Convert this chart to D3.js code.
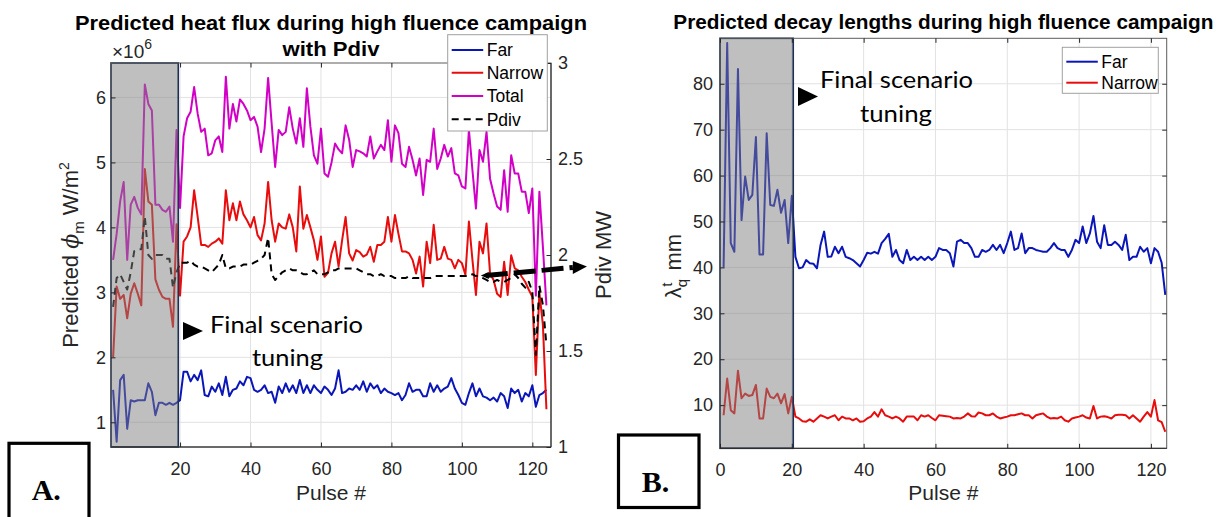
<!DOCTYPE html>
<html lang="en">
<head>
<meta charset="UTF-8">
<title>Predicted heat flux and decay lengths</title>
<script src="https://cdnjs.cloudflare.com/ajax/libs/d3/7.8.5/d3.min.js"></script>
<style>
    body { margin: 0; background: #fff; }
    svg text { font-family: "Liberation Sans", Arial, sans-serif; }
</style>
</head>
<body>
<svg id="fig" width="1226" height="517"></svg>
<script>
// pulse numbers 1..124
const pulse = d3.range(1, 125);

// panel A: peak heat flux (x10^6 W/m^2) and Pdiv (MW)
const farFlux = [1.5,0.7,1.65,1.73,0.9,1.34,1.32,1.34,1.34,1.34,
    1.6,1.47,1.11,1.3,1.3,1.27,1.3,1.27,1.3,1.34,
    1.78,1.78,1.63,1.73,1.65,1.8,1.42,1.4,1.55,1.47,
    1.6,1.42,1.7,1.4,1.5,1.52,1.63,1.57,1.7,1.68,
    1.5,1.47,1.5,1.57,1.45,1.47,1.3,1.55,1.45,1.6,
    1.47,1.57,1.45,1.65,1.45,1.57,1.45,1.57,1.5,1.45,
    1.55,1.5,1.42,1.52,1.8,1.45,1.47,1.52,1.5,1.57,
    1.5,1.63,1.47,1.6,1.52,1.57,1.45,1.52,1.47,1.45,
    1.42,1.45,1.34,1.42,1.6,1.47,1.5,1.5,1.4,1.4,
    1.6,1.47,1.57,1.47,1.52,1.55,1.68,1.52,1.42,1.3,
    1.27,1.45,1.6,1.4,1.52,1.4,1.38,1.34,1.38,1.32,
    1.45,1.4,1.22,1.52,1.45,1.5,1.32,1.45,1.4,1.57,
    1.24,1.42,1.45,1.5];
const narrowFlux = [2.0,3.09,2.9,2.96,2.6,2.98,3.14,2.98,2.8,4.9,
    4.4,4.35,3.2,3.04,2.93,2.9,2.9,2.47,4.05,2.95,
    3.78,3.86,4.0,4.57,4.16,3.73,3.73,3.7,3.75,3.78,
    3.83,3.75,4.57,4.11,4.37,4.11,4.4,4.2,4.11,4.0,
    4.16,3.88,3.8,4.06,4.7,4.11,3.78,4.06,4.0,3.98,
    4.2,4.0,3.63,4.63,3.98,4.19,4.0,3.8,3.5,3.86,
    3.24,3.3,3.6,3.78,3.4,3.8,4.16,3.6,3.49,3.65,
    3.62,3.55,3.58,3.7,3.47,3.73,3.73,3.78,4.16,3.78,
    4.19,3.9,3.63,3.63,3.6,3.5,3.29,3.55,3.09,3.78,
    3.45,4.04,3.5,3.52,3.7,3.52,3.5,3.37,3.5,3.45,
    3.27,4.09,3.5,2.96,3.78,3.6,4.06,3.29,3.19,2.98,
    2.93,3.47,2.96,3.57,3.37,3.34,3.24,3.16,3.04,2.93,
    1.73,3.0,2.5,1.2];
const totalFlux = [3.5,3.9,4.4,4.7,3.5,4.35,4.47,4.3,4.2,6.2,
    5.9,5.8,4.35,4.35,4.27,4.24,4.32,3.78,5.5,4.3,
    5.4,5.68,5.78,6.16,5.75,5.47,5.52,5.11,5.14,5.34,
    5.4,5.16,6.32,5.52,5.9,5.63,5.97,5.9,5.8,5.65,
    5.7,5.55,5.16,5.52,6.3,5.6,4.93,5.5,5.42,5.47,
    5.85,5.52,5.29,5.68,5.24,6.14,5.55,5.11,4.98,5.52,
    4.83,4.78,5.0,5.29,5.2,5.14,5.57,5.35,4.93,5.19,
    5.17,5.14,5.09,5.4,5.06,5.17,5.27,5.19,5.65,5.01,
    5.57,5.45,4.98,4.93,5.24,5.04,4.8,5.06,4.5,5.04,
    5.01,5.52,4.9,5.06,5.27,5.09,5.22,4.83,4.8,4.63,
    4.6,5.5,4.88,4.29,5.19,5.01,5.47,4.75,4.52,4.32,
    4.27,4.88,4.24,5.11,4.83,4.83,4.55,4.55,4.22,4.6,
    2.95,4.55,3.7,2.8];
const pdiv = [1.73,1.88,1.9,1.86,1.82,1.91,2.02,2.03,2.03,2.2,
    2.0,1.98,2.0,2.0,2.0,1.98,1.98,1.83,1.91,1.96,
    1.96,1.96,1.97,1.95,1.94,1.94,1.93,1.92,1.91,1.93,
    1.95,2.0,1.93,1.93,1.94,1.94,1.94,1.95,1.95,1.95,
    1.96,1.97,1.98,2.0,2.09,1.9,1.87,1.89,1.91,1.92,
    1.93,1.92,1.92,1.91,1.9,1.9,1.91,1.92,1.9,1.9,
    1.9,1.91,1.92,1.92,1.93,1.93,1.93,1.93,1.93,1.93,
    1.92,1.91,1.9,1.9,1.89,1.89,1.9,1.89,1.89,1.89,
    1.88,1.88,1.88,1.88,1.89,1.88,1.88,1.88,1.88,1.88,
    1.88,1.89,1.89,1.89,1.89,1.89,1.89,1.89,1.89,1.89,
    1.89,1.89,1.9,1.89,1.89,1.88,1.87,1.86,1.86,1.87,
    1.86,1.86,1.87,1.88,1.9,1.88,1.85,1.83,1.86,1.81,
    1.48,1.84,1.74,1.53];

// panel B: decay lengths (mm)
const farLambda = [40,88.9,45.3,43.4,83.2,50.3,59.8,54.7,55.8,68.4,
    42.8,42.8,69.2,53.6,53.4,56.9,51.9,54.7,45.3,55.6,
    42.3,39.8,40,41.6,40.9,40.8,39.8,44.9,47.8,42.3,
    42.4,44.5,43.1,44.5,42.3,42,41.6,40.9,40.2,41.6,
    43.2,43,43.4,43,45.3,46.2,47.3,42.3,43.8,41.6,
    40.9,43.8,41.6,42.3,41.6,42.3,41.6,42.3,41.6,42.3,
    44.2,43.8,43.8,43.1,40.2,45.6,46,45.3,45.3,44.2,
    42.3,42.3,43.8,43.4,43.8,44.9,43.8,44.9,43.1,45.3,
    47.8,43.8,44.2,47.4,43.1,44.2,44.2,43.8,43.6,43.4,
    43.4,44.2,45.3,44.2,43.8,43.8,42.3,43.8,46,45.3,
    48.9,45.3,47.4,51.2,45.6,44.2,49.2,44.9,44.9,45.6,
    44.9,43.8,47.1,41.6,42.3,42.3,44.5,43.4,44.2,40.9,
    44.2,43.4,41,34];
const narrowLambda = [7.8,15.8,8.9,8.2,17.5,11.5,12.5,12,12.2,14.4,
    7.1,7.1,13.6,11.8,11.5,12.5,10.4,12.4,8.2,11.8,
    7.5,7.1,6.5,6.4,6.9,6.4,7.1,7.8,7.5,7.1,
    7.5,7.8,6.7,7.5,7.1,7.1,6.7,7.1,6.4,6.5,
    7.1,7.5,8.5,7.5,9.1,7.8,7.5,7.1,7.5,7.1,
    6.4,7.5,7.5,7.5,6.7,7.8,7.5,7.8,7.2,6.7,
    7.8,7.7,7.6,7.5,7.1,7.2,7.1,7.5,8.2,7.6,
    7.5,8.4,8.2,7.8,7.8,8.2,7.5,7.1,7.3,7.5,
    7.8,7.8,8.0,8.2,7.8,7.8,7.1,7.8,8.0,8.2,
    7.5,7.1,7.2,7.1,7.5,6.7,6.4,7.1,7.3,7.5,
    7.8,7.3,7.1,9.8,7.1,7.5,7.6,7.4,7.1,7.8,
    7.9,7.9,7.8,7.1,7.8,7.1,6.4,7.5,8.5,7.5,
    11.1,6.7,6.3,4.2];

// ticks
const xTicksA = [20, 40, 60, 80, 100, 120];
const xTicksB = [0, 20, 40, 60, 80, 100, 120];
const fluxTicks = [1, 2, 3, 4, 5, 6];
const pdivTicks = [1, 1.5, 2, 2.5, 3];
const lambdaTicks = [10, 20, 30, 40, 50, 60, 70, 80];
const tuningEnd = 20;   // end of the scenario-tuning pulses

const colors = { far: "#0b16b8", narrow: "#e80c0c", total: "#d200c6", pdiv: "#000" };
const tickColor = "#262626";
const pdivDash = "7,5";

const svg = d3.select("#fig");

// plot boxes
const A = { x0: 111, x1: 551, y0: 63, y1: 447 };
const B = { x0: 720, x1: 1166.7, y0: 38.3, y1: 448.3 };

const xA = d3.scaleLinear().domain([0.4, 125.3]).range([A.x0, A.x1]);
const yA = d3.scaleLinear().domain([0.62, 6.53]).range([A.y1, A.y0]);
const yP = d3.scaleLinear().domain([1, 3]).range([A.y1, A.y0]);
const xB = d3.scaleLinear().domain([0, 124.4]).range([B.x0, B.x1]);
const yB = d3.scaleLinear().domain([0.6, 89.9]).range([B.y1, B.y0]);

const defs = svg.append("defs");
function clip(id, box) {
    defs.append("clipPath").attr("id", id).append("rect")
        .attr("x", box.x0).attr("y", box.y0)
        .attr("width", box.x1 - box.x0).attr("height", box.y1 - box.y0);
}
clip("clipA", A);
clip("clipB", B);

function grid(g, box, x, y, xt, yt) {
    g.selectAll(".gx").data(xt).join("line")
        .attr("x1", d => x(d)).attr("x2", d => x(d))
        .attr("y1", box.y0).attr("y2", box.y1)
        .attr("stroke", "#e2e2e2").attr("stroke-width", 1);
    g.selectAll(".gy").data(yt).join("line")
        .attr("class", "gy")
        .attr("x1", box.x0).attr("x2", box.x1)
        .attr("y1", d => y(d)).attr("y2", d => y(d))
        .attr("stroke", "#e2e2e2").attr("stroke-width", 1);
}

function series(g, x, y, values, color, dash) {
    const line = d3.line().x((d, i) => x(pulse[i])).y(d => y(d));
    g.append("path").datum(values)
        .attr("d", line)
        .attr("fill", "none")
        .attr("stroke", color)
        .attr("stroke-width", 2)
        .attr("stroke-linejoin", "round")
        .attr("stroke-dasharray", dash || null);
}

function shade(g, box, x, from, to) {
    g.append("rect")
        .attr("x", x(from)).attr("y", box.y0)
        .attr("width", x(to) - x(from)).attr("height", box.y1 - box.y0)
        .attr("fill", "#808080").attr("fill-opacity", 0.5)
        .attr("stroke", "#1d2f52").attr("stroke-width", 1.6);
}

function styleAxis(g) {
    g.select(".domain").remove();
    g.selectAll(".tick line").attr("stroke", tickColor);
    g.selectAll(".tick text")
        .attr("fill", tickColor)
        .style("font-size", "18px")
        .style("font-family", "'Liberation Sans', Arial, sans-serif");
}

function frame(g, box) {
    g.append("rect")
        .attr("x", box.x0).attr("y", box.y0)
        .attr("width", box.x1 - box.x0).attr("height", box.y1 - box.y0)
        .attr("fill", "none").attr("stroke", "#5c5c5c").attr("stroke-width", 1);
}

function legend(g, x, y, w, h, items, rowY) {
    g.append("rect").attr("x", x).attr("y", y).attr("width", w).attr("height", h)
        .attr("fill", "#fff").attr("stroke", "#a0a0a0").attr("stroke-width", 1);
    const row = g.selectAll(".lg").data(items).join("g")
        .attr("transform", (d, i) => `translate(${x + 4},${rowY[i]})`);
    row.append("line").attr("x1", 0).attr("x2", 31.5)
        .attr("stroke", d => d.color).attr("stroke-width", 2)
        .attr("stroke-dasharray", d => d.dash || null);
    row.append("text").attr("x", 35).attr("dy", "0.36em")
        .style("font-size", "17.5px").text(d => d.name);
}

function tri(g, px, py, w, h) {
    g.append("path")
        .attr("d", `M${px},${py - h / 2}L${px + w},${py}L${px},${py + h / 2}Z`)
        .attr("fill", "#000");
}

function annot(g, x, y, lines) {
    g.selectAll(".an").data(lines).join("text")
        .attr("x", d => x + d.dx).attr("y", d => y + d.dy)
        .attr("textLength", d => d.len).attr("lengthAdjust", "spacingAndGlyphs")
        .style("font-family", "Lato, 'Open Sans', sans-serif")
        .style("font-size", "23.5px")
        .text(d => d.t);
}

const annotLines = [
    { t: "Final scenario", dx: 0, dy: 0, len: 153 },
    { t: "tuning", dx: 42, dy: 33, len: 71 }
];

// ---------------- panel A ----------------
const gA = svg.append("g");
grid(gA, A, xA, yA, xTicksA, fluxTicks);
const pA = gA.append("g").attr("clip-path", "url(#clipA)");
series(pA, xA, yA, farFlux, colors.far);
series(pA, xA, yA, narrowFlux, colors.narrow);
series(pA, xA, yA, totalFlux, colors.total);
series(pA, xA, yP, pdiv, colors.pdiv, pdivDash);
shade(gA, A, xA, 0.4, tuningEnd - 0.5);
frame(gA, A);
gA.append("line").attr("x1", A.x1).attr("x2", A.x1).attr("y1", A.y0).attr("y2", A.y1)
    .attr("stroke", tickColor);
gA.append("line").attr("x1", A.x0).attr("x2", A.x1).attr("y1", A.y1).attr("y2", A.y1)
    .attr("stroke", tickColor);

gA.append("g").attr("transform", `translate(0,${A.y1})`)
    .call(d3.axisBottom(xA).tickValues(xTicksA).tickSizeInner(-4.5).tickSizeOuter(0).tickPadding(15))
    .call(styleAxis);
gA.append("g").attr("transform", `translate(0,${A.y0})`)
    .call(d3.axisTop(xA).tickValues(xTicksA).tickSizeInner(-4.5).tickSizeOuter(0).tickFormat(""))
    .call(styleAxis);
gA.append("g").attr("transform", `translate(${A.x0},0)`)
    .call(d3.axisLeft(yA).tickValues(fluxTicks).tickSizeInner(-4.5).tickSizeOuter(0).tickPadding(5).tickFormat(d3.format("d")))
    .call(styleAxis);
gA.append("g").attr("transform", `translate(${A.x1},0)`)
    .call(d3.axisRight(yP).tickValues(pdivTicks).tickSizeInner(-4.5).tickSizeOuter(0).tickPadding(7).tickFormat(d3.format("~g")))
    .call(styleAxis);

// exponent
const ex = gA.append("text").attr("x", 112).attr("y", 57.5).attr("fill", tickColor).style("font-size", "19px");
ex.append("tspan").text("\u00d710");
ex.append("tspan").attr("dy", -9).style("font-size", "14px").text("6");

// titles
gA.append("text").attr("x", (A.x0 + A.x1) / 2).attr("y", 29.5).attr("text-anchor", "middle")
    .attr("textLength", 512).attr("lengthAdjust", "spacingAndGlyphs")
    .style("font-size", "20px").style("font-weight", "bold")
    .text("Predicted heat flux during high fluence campaign");
gA.append("text").attr("x", (A.x0 + A.x1) / 2).attr("y", 55.5).attr("text-anchor", "middle")
    .attr("textLength", 97).attr("lengthAdjust", "spacingAndGlyphs")
    .style("font-size", "20px").style("font-weight", "bold")
    .text("with Pdiv");

// axis labels
gA.append("text").attr("x", (A.x0 + A.x1) / 2).attr("y", 500).attr("text-anchor", "middle")
    .attr("fill", tickColor).style("font-size", "21px").text("Pulse #");
const ylA = gA.append("text").attr("transform", "translate(78,255) rotate(-90)")
    .attr("text-anchor", "middle").attr("fill", tickColor).style("font-size", "22px");
ylA.append("tspan").text("Predicted ");
ylA.append("tspan").style("font-family", "'DejaVu Serif', serif").style("font-style", "italic").text("\u03d5");
ylA.append("tspan").attr("dy", 6).style("font-size", "15px").text("m");
ylA.append("tspan").attr("dy", -6).text("  W/m");
ylA.append("tspan").attr("dy", -9).style("font-size", "14px").text("2");
gA.append("text").attr("transform", "translate(611,255) rotate(-90)")
    .attr("text-anchor", "middle").attr("fill", tickColor).style("font-size", "22px").text("Pdiv MW");

legend(gA, 447.7, 34.7, 99.6, 96.3, [
    { name: "Far", color: colors.far },
    { name: "Narrow", color: colors.narrow },
    { name: "Total", color: colors.total },
    { name: "Pdiv", color: "#000", dash: pdivDash }
], [50, 72.7, 96, 119.3]);

tri(gA, 183, 331, 20, 18);
annot(gA, 210, 332.7, annotLines);

// dashed arrow towards the Pdiv axis
const arrowFrom = [106.8, 1.893], arrowTo = [131.5, 1.935], arrowTip = [135.5, 1.94];
gA.append("line")
    .attr("x1", xA(arrowFrom[0])).attr("y1", yP(arrowFrom[1]))
    .attr("x2", xA(arrowTo[0])).attr("y2", yP(arrowTo[1]))
    .attr("stroke", "#000").attr("stroke-width", 5).attr("stroke-dasharray", "22,6");
gA.append("path")
    .attr("d", `M${xA(arrowTip[0])},${yP(arrowTip[1])}L${xA(arrowTo[0])},${yP(arrowTo[1]) - 6.5}L${xA(arrowTo[0])},${yP(arrowTo[1]) + 6.5}Z`)
    .attr("fill", "#000");
gA.append("path")
    .attr("d", `M${xA(arrowFrom[0]) - 5},${yP(arrowFrom[1])}L${xA(arrowFrom[0]) + 3},${yP(arrowFrom[1]) - 3.5}L${xA(arrowFrom[0]) + 3},${yP(arrowFrom[1]) + 3.5}Z`)
    .attr("fill", "#000");

// ---------------- panel B ----------------
const gB = svg.append("g");
grid(gB, B, xB, yB, xTicksB, lambdaTicks);
const pB = gB.append("g").attr("clip-path", "url(#clipB)");
series(pB, xB, yB, farLambda, colors.far);
series(pB, xB, yB, narrowLambda, colors.narrow);
shade(gB, B, xB, 0, tuningEnd + 0.4);
frame(gB, B);
gB.append("line").attr("x1", B.x0).attr("x2", B.x1).attr("y1", B.y1).attr("y2", B.y1)
    .attr("stroke", tickColor);

gB.append("g").attr("transform", `translate(0,${B.y1})`)
    .call(d3.axisBottom(xB).tickValues(xTicksB).tickSizeInner(-4.5).tickSizeOuter(0).tickPadding(15))
    .call(styleAxis);
gB.append("g").attr("transform", `translate(0,${B.y0})`)
    .call(d3.axisTop(xB).tickValues(xTicksB).tickSizeInner(-4.5).tickSizeOuter(0).tickFormat(""))
    .call(styleAxis);
gB.append("g").attr("transform", `translate(${B.x0},0)`)
    .call(d3.axisLeft(yB).tickValues(lambdaTicks).tickSizeInner(-4.5).tickSizeOuter(0).tickPadding(7))
    .call(styleAxis);
gB.append("g").attr("transform", `translate(${B.x1},0)`)
    .call(d3.axisRight(yB).tickValues(lambdaTicks).tickSizeInner(-4.5).tickSizeOuter(0).tickFormat(""))
    .call(styleAxis);

gB.append("text").attr("x", (B.x0 + B.x1) / 2).attr("y", 28.5).attr("text-anchor", "middle")
    .attr("textLength", 540).attr("lengthAdjust", "spacingAndGlyphs")
    .style("font-size", "20px").style("font-weight", "bold")
    .text("Predicted decay lengths during high fluence campaign");
gB.append("text").attr("x", (B.x0 + B.x1) / 2).attr("y", 500).attr("text-anchor", "middle")
    .attr("fill", tickColor).style("font-size", "21px").text("Pulse #");
const ylB = gB.append("text").attr("transform", "translate(681,266) rotate(-90)")
    .attr("text-anchor", "middle").attr("fill", tickColor).style("font-size", "22px");
ylB.append("tspan").text("\u03bb");
ylB.append("tspan").attr("dy", 6).style("font-size", "15px").text("q");
ylB.append("tspan").attr("dx", -8).attr("dy", -15).style("font-size", "15px").text("t");
ylB.append("tspan").attr("dx", 6).attr("dy", 9).text(" mm");

legend(gB, 1062.3, 47.3, 96, 46, [
    { name: "Far", color: colors.far },
    { name: "Narrow", color: colors.narrow }
], [61.7, 82.7]);

tri(gB, 798, 96.5, 20, 19);
annot(gB, 820, 88.3, [
    { t: "Final scenario", dx: 0, dy: 0, len: 153 },
    { t: "tuning", dx: 40, dy: 33.4, len: 72 }
]);

// ---------------- panel letters ----------------
const letters = [
    { t: "A.", bx: 9, by: 443.3, bw: 80, bh: 90, tx: 31.7, ty: 500 },
    { t: "B.", bx: 618.5, by: 435, bw: 80.5, bh: 72.5, tx: 641.7, ty: 491.7 }
];
const lg = svg.selectAll(".letter").data(letters).join("g");
lg.append("rect").attr("x", d => d.bx).attr("y", d => d.by).attr("width", d => d.bw).attr("height", d => d.bh)
    .attr("fill", "none").attr("stroke", "#000").attr("stroke-width", 3.2);
lg.append("text").attr("x", d => d.tx).attr("y", d => d.ty)
    .style("font-family", "'Liberation Serif', 'Times New Roman', serif")
    .style("font-weight", "bold").style("font-size", "30px")
    .text(d => d.t);
</script>
</body>
</html>
